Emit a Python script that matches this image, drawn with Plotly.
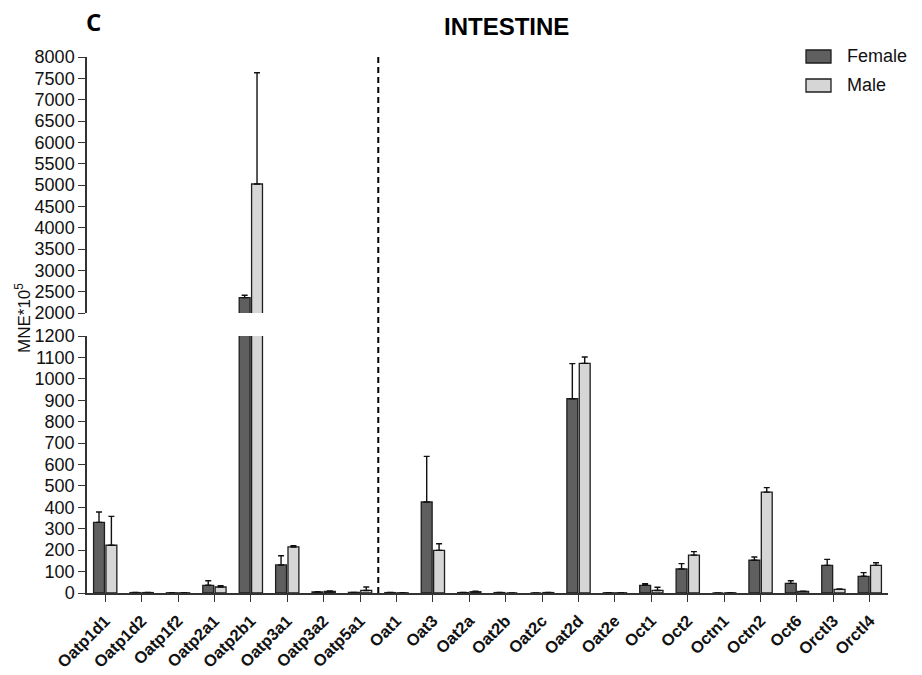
import plotly.graph_objects as go

# ---- data -------------------------------------------------------------
genes = ["Oatp1d1", "Oatp1d2", "Oatp1f2", "Oatp2a1", "Oatp2b1", "Oatp3a1",
         "Oatp3a2", "Oatp5a1", "Oat1", "Oat3", "Oat2a", "Oat2b", "Oat2c",
         "Oat2d", "Oat2e", "Oct1", "Oct2", "Octn1", "Octn2", "Oct6",
         "Orctl3", "Orctl4"]

female = [330, 2, 1, 36, 2360, 131, 5, 3, 2, 425, 2, 2, 0,
          907, 1, 36, 112, 0, 153, 45, 129, 78]
female_err = [48, 0, 0, 21, 56, 43, 1, 0, 0, 213, 0, 0, 0,
              164, 0, 7, 25, 0, 15, 12, 28, 17]

male = [223, 2, 1, 28, 5023, 215, 7, 12, 1, 199, 6, 0, 2,
        1072, 1, 12, 177, 1, 471, 8, 17, 129]
male_err = [135, 0, 0, 6, 2609, 6, 3, 16, 0, 31, 2, 0, 0,
            30, 0, 15, 16, 0, 21, 0, 2, 12]

y_label = "MNE*10<sup>5</sup>"
panel_letter = "C"
panel_title = "INTESTINE"
series_names = ["Female", "Male"]

# ---- styling ----------------------------------------------------------
W, H = 922, 675
ML, MR, MT, MB = 87, 34, 57, 82
PW, PH = W - ML - MR, H - MT - MB
AX_BOTTOM = H - MB

FEMALE_COLOR = "#5f5f5f"
MALE_COLOR = "#d6d6d6"
EDGE = "#1e1e1e"
AXIS = "#333333"
FONT = "Liberation Sans"


def px_x(px):
    return (px - ML) / PW


def px_y(py):
    return (AX_BOTTOM - py) / PH


lower_domain = [0, px_y(336)]
upper_domain = [px_y(313), 1]

fig = go.Figure()

for yref in ["y", "y2"]:
    for name, vals, errs, col in [
        (series_names[0], female, female_err, FEMALE_COLOR),
        (series_names[1], male, male_err, MALE_COLOR),
    ]:
        fig.add_trace(go.Bar(
            x=genes, y=vals, name=name, yaxis=yref, xaxis="x",
            marker=dict(color=col, line=dict(color=EDGE, width=1.3)),
            error_y=dict(type="data", symmetric=False, array=errs,
                         arrayminus=[0] * len(errs), color="#111111",
                         thickness=1.4, width=3),
            showlegend=False,
        ))

tick_font = dict(family=FONT, size=18, color="#111111")

fig.update_layout(
    width=W, height=H,
    margin=dict(l=ML, r=MR, t=MT, b=MB, pad=0),
    paper_bgcolor="white", plot_bgcolor="white",
    barmode="group", bargap=0.32, bargroupgap=0.12,
    xaxis=dict(
        type="category", range=[-0.5, len(genes) - 0.5], anchor="y",
        showline=True, linecolor=AXIS, linewidth=1.5,
        ticks="outside", ticklen=7, tickwidth=1.3, tickcolor=AXIS,
        tickangle=-45, showgrid=False, zeroline=False, automargin=False,
        ticklabelstandoff=3,
        tickfont=dict(family=FONT, size=16.5, color="#111111", weight="bold"),
    ),
    yaxis=dict(
        domain=lower_domain, range=[0, 1200], dtick=100, tick0=0,
        anchor="x", showline=True, linecolor=AXIS, linewidth=1.5,
        ticks="outside", ticklen=7, tickwidth=1.3, tickcolor=AXIS,
        showgrid=False, zeroline=False, tickfont=tick_font, automargin=False,
    ),
    yaxis2=dict(
        domain=upper_domain, range=[2000, 8000], dtick=500, tick0=2000,
        anchor="x", showline=True, linecolor=AXIS, linewidth=1.5,
        ticks="outside", ticklen=7, tickwidth=1.3, tickcolor=AXIS,
        showgrid=False, zeroline=False, tickfont=tick_font, automargin=False,
    ),
    font=dict(family=FONT, color="#111111"),
)

# dashed separator between the Oatp and Oat/Oct families
fig.add_shape(type="line", xref="x", yref="paper", x0=7.5, x1=7.5,
              y0=0, y1=1, line=dict(color="black", width=2, dash="6px,4px"))

# titles
fig.add_annotation(text=f"<b>{panel_title}</b>", xref="paper", yref="paper",
                   x=px_x(507), y=px_y(27), showarrow=False,
                   xanchor="center", yanchor="middle",
                   font=dict(family=FONT, size=24, color="black"))
fig.add_annotation(text=f"<b>{panel_letter}</b>", xref="paper", yref="paper",
                   x=px_x(93), y=px_y(22), showarrow=False,
                   xanchor="center", yanchor="middle",
                   font=dict(family="Open Sans", size=24, color="black"))
fig.add_annotation(text=y_label, xref="paper", yref="paper",
                   x=px_x(23), y=px_y(318), showarrow=False, textangle=-90,
                   xanchor="center", yanchor="middle",
                   font=dict(family=FONT, size=17, color="#111111"))

# legend
for i, (name, col) in enumerate(zip(series_names, [FEMALE_COLOR, MALE_COLOR])):
    top = 50 + i * 29
    fig.add_shape(type="rect", xref="paper", yref="paper",
                  x0=px_x(806), x1=px_x(831), y0=px_y(top + 13), y1=px_y(top),
                  fillcolor=col, line=dict(color=EDGE, width=1.3))
    fig.add_annotation(text=name, xref="paper", yref="paper",
                       x=px_x(845), y=px_y(top + 6.5), showarrow=False,
                       xanchor="left", yanchor="middle",
                       font=dict(family=FONT, size=18, color="#111111"))

fig.write_html("out.html")
